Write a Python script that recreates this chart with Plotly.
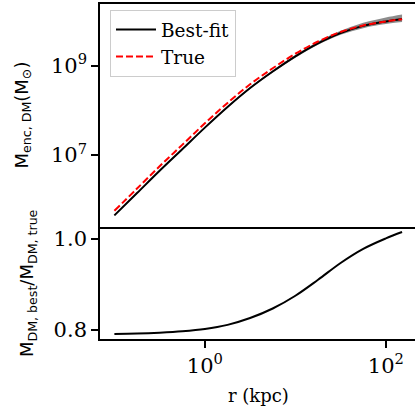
import plotly.graph_objects as go

# ---- data ----
r_kpc = [0.1, 0.178, 0.316, 0.562, 1.0, 1.78, 3.16, 5.62, 10.0, 17.8, 31.6, 56.2, 100.0, 151.0]
m_best = [4.47e5, 1.41e6, 4.45e6, 1.35e7, 4.11e7, 1.19e8, 3.16e8, 7.41e8, 1.62e9, 3.16e9, 5.37e9,
          7.76e9, 9.77e9, 1.11e10]
m_true = [5.65e5, 1.78e6, 5.60e6, 1.69e7, 5.12e7, 1.467e8, 3.83e8, 8.75e8, 1.85e9, 3.47e9, 5.67e9,
          7.93e9, 9.76e9, 1.094e10]
band_hi = [4.62e5, 1.46e6, 4.61e6, 1.40e7, 4.25e7, 1.23e8, 3.31e8, 7.85e8, 1.74e9, 3.46e9, 6.03e9,
           9.12e9, 1.20e10, 1.40e10]
band_lo = [4.32e5, 1.36e6, 4.30e6, 1.30e7, 3.97e7, 1.15e8, 3.02e8, 6.99e8, 1.51e9, 2.92e9, 4.90e9,
           6.92e9, 8.51e9, 9.45e9]
ratio = [0.791, 0.792, 0.794, 0.797, 0.802, 0.811, 0.826, 0.847, 0.875, 0.91, 0.947, 0.978, 1.001, 1.015]

mass_ticks = [1e7, 1e9]
mass_ticktext = ["10<sup>7</sup>", "10<sup>9</sup>"]
r_ticks = [1, 100]
r_ticktext = ["10<sup>0</sup>", "10<sup>2</sup>"]
ratio_ticks = [0.8, 1.0]
ratio_ticktext = ["0.8", "1.0"]

SERIF = "DejaVu Serif"
SANS = "DejaVu Sans"

fig = go.Figure()

# uncertainty band
fig.add_trace(go.Scatter(x=r_kpc, y=band_lo, mode="lines", line=dict(width=0, shape="spline"),
                         showlegend=False, hoverinfo="skip", xaxis="x", yaxis="y"))
fig.add_trace(go.Scatter(x=r_kpc, y=band_hi, mode="lines", line=dict(width=0, shape="spline"),
                         fill="tonexty", fillcolor="rgba(128,128,128,0.9)",
                         showlegend=False, hoverinfo="skip", xaxis="x", yaxis="y"))
fig.add_trace(go.Scatter(x=r_kpc, y=m_best, mode="lines", name="Best-fit",
                         line=dict(color="black", width=2, shape="spline"), xaxis="x", yaxis="y"))
fig.add_trace(go.Scatter(x=r_kpc, y=m_true, mode="lines", name="True",
                         line=dict(color="#ff0000", width=2, dash="7px,3px", shape="spline"),
                         xaxis="x", yaxis="y"))
fig.add_trace(go.Scatter(x=r_kpc, y=ratio, mode="lines", showlegend=False,
                         line=dict(color="black", width=2, shape="spline"), xaxis="x2", yaxis="y2"))

split = 112 / 335
xr = [-1.159, 2.322]
axis_common = dict(showgrid=False, zeroline=False, showline=True, linecolor="black", linewidth=1.6,
                   tickcolor="black", tickfont=dict(family=SERIF, size=21, color="black"))

fig.update_layout(
    width=415, height=410,
    margin=dict(l=100, r=0, t=4, b=71),
    paper_bgcolor="white", plot_bgcolor="white",
    xaxis=dict(domain=[0, 1], anchor="y", type="log", range=xr, mirror=True,
               showticklabels=False, ticks="", **axis_common),
    yaxis=dict(domain=[split, 1], anchor="x", type="log", range=[5.39, 10.38],
               tickmode="array", tickvals=mass_ticks, ticktext=mass_ticktext,
               ticks="outside", ticklen=7, tickwidth=1.5, **axis_common),
    xaxis2=dict(domain=[0, 1], anchor="y2", type="log", range=xr, mirror=False,
                tickmode="array", tickvals=r_ticks, ticktext=r_ticktext,
                ticks="outside", ticklen=7, tickwidth=1.5, **axis_common),
    yaxis2=dict(domain=[0, split], anchor="x2", range=[0.78, 1.026],
                tickmode="array", tickvals=ratio_ticks, ticktext=ratio_ticktext,
                ticks="outside", ticklen=7, tickwidth=1.5, **axis_common),
    legend=dict(x=10 / 315, y=(339 - 10) / 335, xanchor="left", yanchor="top",
                traceorder="normal",
                bgcolor="rgba(255,255,255,0.8)", bordercolor="#cccccc", borderwidth=1,
                font=dict(family=SERIF, size=18.5, color="black"), itemwidth=40),
    showlegend=True,
)

fig.add_annotation(text="M<sub>enc, DM</sub>(M<sub>⊙</sub>)", xref="paper", yref="y domain",
                   x=0, y=0.5, xshift=-78, textangle=-90, showarrow=False,
                   xanchor="center", yanchor="middle", font=dict(family=SANS, size=18, color="black"))
fig.add_annotation(text="M<sub>DM, best</sub>/M<sub>DM, true</sub>", xref="paper", yref="y2 domain",
                   x=0, y=0.5, xshift=-72, textangle=-90, showarrow=False,
                   xanchor="center", yanchor="middle", font=dict(family=SANS, size=18, color="black"))
fig.add_annotation(text="r (kpc)", xref="x2", yref="paper", x=0.587, y=0, yshift=-56.5,
                   showarrow=False, xanchor="center", yanchor="middle",
                   font=dict(family=SERIF, size=18, color="black"))

fig.write_html("out.html")
